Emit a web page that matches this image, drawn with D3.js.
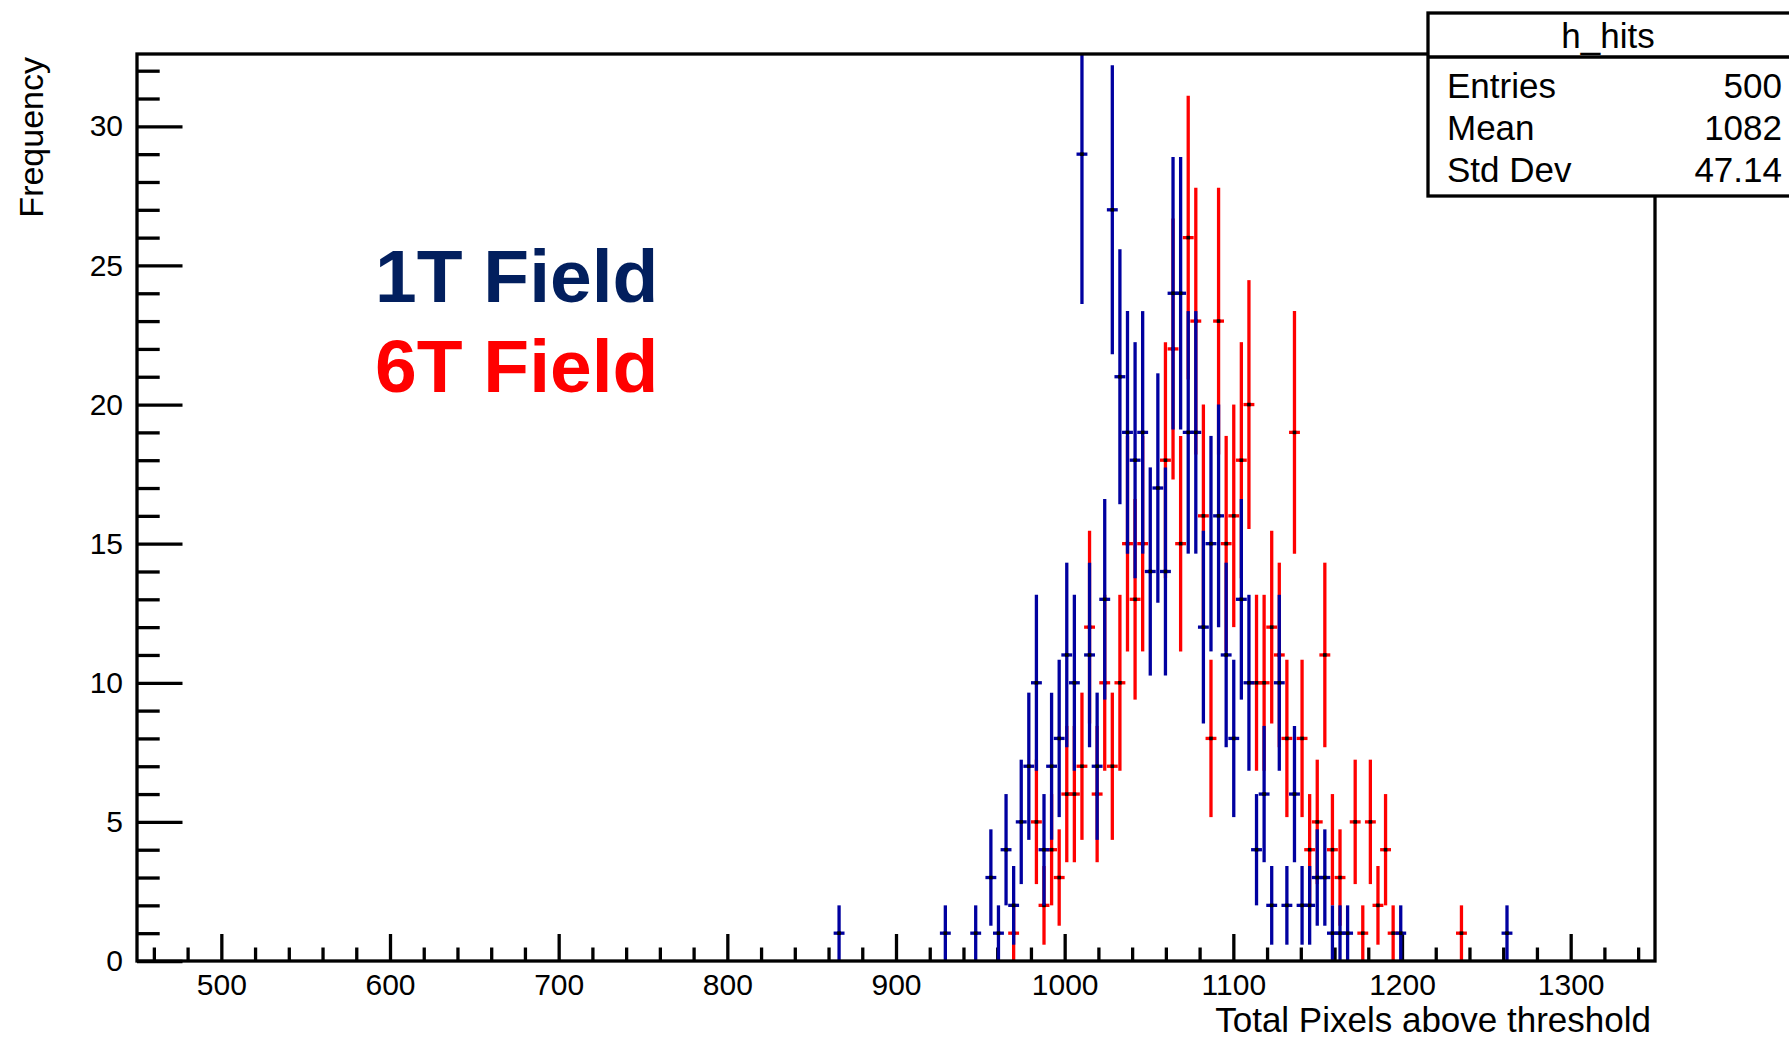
<!DOCTYPE html>
<html>
<head>
<meta charset="utf-8">
<script src="https://cdn.jsdelivr.net/npm/d3@7"></script>
<style>
  body { margin: 0; background: #fff; }
  svg { display: block; }
  text { font-family: "Liberation Sans", Arial, Helvetica, sans-serif; }
</style>
</head>
<body>
<svg id="chart" width="1789" height="1038"></svg>
<script>
// Histogram binning: 200 bins of width 4.5 over [450, 1350]
const histLow = 450;
const histHigh = 1350;
const binWidth = 4.5;
const firstBin = 92;          // index of the first bin listed in the count arrays

// Bin contents, bins 92..180 (ten bins per row)
const counts1T = [
  1, 0, 0, 0, 0, 0, 0, 0, 0, 0,
  0, 0, 0, 0, 1, 0, 0, 0, 1, 0,
  3, 1, 4, 2, 5, 7, 10, 4, 7, 8,
  11, 10, 29, 11, 7, 13, 27, 21, 19, 18,
  19, 14, 17, 14, 24, 24, 19, 19, 12, 15,
  16, 11, 8, 13, 10, 4, 6, 2, 10, 2,
  6, 2, 2, 3, 3, 1, 1, 1, 0, 0,
  0, 0, 0, 0, 1, 0, 0, 0, 0, 0,
  0, 0, 0, 0, 0, 0, 0, 0, 1
];
const counts6T = [
  0, 0, 0, 0, 0, 0, 0, 0, 0, 0,
  0, 0, 0, 0, 0, 0, 0, 0, 0, 0,
  0, 0, 0, 1, 0, 0, 5, 2, 4, 3,
  6, 6, 7, 12, 6, 10, 7, 10, 15, 13,
  15, 0, 0, 18, 22, 15, 26, 23, 16, 8,
  23, 15, 16, 18, 20, 10, 10, 12, 11, 8,
  19, 8, 4, 5, 11, 4, 3, 0, 5, 1,
  5, 2, 4, 1, 0, 0, 0, 0, 0, 0,
  0, 0, 1, 0, 0, 0, 0, 0, 0
];

const xMajorTicks = [500, 600, 700, 800, 900, 1000, 1100, 1200, 1300];
const yMajorTicks = [0, 5, 10, 15, 20, 25, 30];
const xMinorStep = 20;
const yMinorStep = 1;
const yMax = 32.6;

const statsTitle = "h_hits";
const statsNames = ["Entries", "Mean", "Std Dev"];
const statsValues = ["500", "1082", "47.14"];

const legendLabels = ["1T Field", "6T Field"];
const legendColors = ["#021f5e", "#ff0000"];
const seriesColors = { "1T": "#0000a0", "6T": "#ff0000" };

const xTitle = "Total Pixels above threshold";
const yTitle = "Frequency";

// ---- layout ----
const frame = { left: 137, right: 1655, top: 54, bottom: 961 };
const lineW = 3.3;

const svg = d3.select("#chart");
const x = d3.scaleLinear().domain([histLow, histHigh]).range([frame.left, frame.right]);
const y = d3.scaleLinear().domain([0, yMax]).range([frame.bottom, frame.top]);

svg.append("defs").append("clipPath").attr("id", "frameClip")
  .append("rect")
  .attr("x", frame.left).attr("y", frame.top)
  .attr("width", frame.right - frame.left).attr("height", frame.bottom - frame.top);

// minor ticks between the labelled ones
const xMinorTicks = d3.range(histLow + 10, histHigh, xMinorStep).filter(v => !xMajorTicks.includes(v));
const yMinorTicks = d3.range(yMinorStep, yMax, yMinorStep).filter(v => !yMajorTicks.includes(v));

const xAxisMinor = d3.axisBottom(x).tickValues(xMinorTicks).tickSize(-13.5).tickFormat("");
const xAxisMajor = d3.axisBottom(x).tickValues(xMajorTicks).tickSize(-27).tickPadding(13).tickFormat(d3.format("d"));
const yAxisMinor = d3.axisLeft(y).tickValues(yMinorTicks).tickSize(-22.7).tickFormat("");
const yAxisMajor = d3.axisLeft(y).tickValues(yMajorTicks).tickSize(-45.5).tickPadding(14).tickFormat(d3.format("d"));

function styleAxis(g) {
  g.select(".domain").remove();
  g.selectAll(".tick line").attr("stroke", "#000").attr("stroke-width", lineW);
  g.selectAll(".tick text").attr("fill", "#000").attr("font-size", 30)
    .attr("font-family", "\"Liberation Sans\", Arial, sans-serif");
}

svg.append("g").attr("transform", `translate(0,${frame.bottom})`).call(xAxisMinor).call(styleAxis);
svg.append("g").attr("transform", `translate(0,${frame.bottom})`).call(xAxisMajor).call(styleAxis);
svg.append("g").attr("transform", `translate(${frame.left},0)`).call(yAxisMinor).call(styleAxis);
svg.append("g").attr("transform", `translate(${frame.left},0)`).call(yAxisMajor).call(styleAxis);

// ---- histogram points with Poisson error bars ----
function binsOf(counts) {
  return counts.map((c, k) => {
    const i = firstBin + k;
    return { center: histLow + binWidth * (i + 0.5), lo: histLow + binWidth * i, hi: histLow + binWidth * (i + 1), count: c };
  }).filter(d => d.count > 0);
}

function drawSeries(counts, color) {
  const data = binsOf(counts);
  const g = svg.append("g").attr("clip-path", "url(#frameClip)");
  g.selectAll("line.v").data(data).join("line").attr("class", "v")
    .attr("x1", d => x(d.center)).attr("x2", d => x(d.center))
    .attr("y1", d => y(Math.max(0, d.count - Math.sqrt(d.count))))
    .attr("y2", d => y(Math.min(yMax, d.count + Math.sqrt(d.count))))
    .attr("stroke", color).attr("stroke-width", lineW);
  g.selectAll("line.h").data(data).join("line").attr("class", "h")
    .attr("x1", d => x(d.lo)).attr("x2", d => x(d.hi))
    .attr("y1", d => y(d.count)).attr("y2", d => y(d.count))
    .attr("stroke", color).attr("stroke-width", lineW).attr("stroke-linecap", "square");
  g.selectAll("rect.m").data(data).join("rect").attr("class", "m")
    .attr("x", d => x(d.center) - 1.8).attr("y", d => y(d.count) - 1.8)
    .attr("width", 3.6).attr("height", 3.6).attr("fill", "#000");
}

drawSeries(counts6T, seriesColors["6T"]);
drawSeries(counts1T, seriesColors["1T"]);

// ---- frame ----
svg.append("rect")
  .attr("x", frame.left).attr("y", frame.top)
  .attr("width", frame.right - frame.left).attr("height", frame.bottom - frame.top)
  .attr("fill", "none").attr("stroke", "#000").attr("stroke-width", lineW);

// ---- axis titles ----
svg.append("text")
  .attr("x", frame.right - 4).attr("y", 1032)
  .attr("text-anchor", "end").attr("font-size", 35).attr("fill", "#000")
  .text(xTitle);

svg.append("text")
  .attr("transform", "translate(43,57) rotate(-90)")
  .attr("text-anchor", "end").attr("font-size", 34).attr("fill", "#000")
  .text(yTitle);

// ---- field labels ----
svg.selectAll("text.legend").data(legendLabels).join("text").attr("class", "legend")
  .attr("x", 375).attr("y", (d, i) => 302 + i * 90)
  .attr("font-size", 75).attr("font-weight", "bold")
  .attr("fill", (d, i) => legendColors[i])
  .text(d => d);

// ---- statistics box ----
const box = { x: 1428, y: 13, w: 1789 - 1428 + 4, h: 183, header: 44 };
const sb = svg.append("g");
sb.append("rect").attr("x", box.x).attr("y", box.y).attr("width", box.w).attr("height", box.h)
  .attr("fill", "#fff").attr("stroke", "#000").attr("stroke-width", lineW);
sb.append("line").attr("x1", box.x).attr("x2", box.x + box.w)
  .attr("y1", box.y + box.header).attr("y2", box.y + box.header)
  .attr("stroke", "#000").attr("stroke-width", lineW);
sb.append("text").attr("x", 1608).attr("y", 48).attr("text-anchor", "middle")
  .attr("font-size", 35).attr("fill", "#000").text(statsTitle);
sb.selectAll("text.sn").data(statsNames).join("text").attr("class", "sn")
  .attr("x", 1447).attr("y", (d, i) => 98 + i * 42)
  .attr("font-size", 35).attr("fill", "#000").text(d => d);
sb.selectAll("text.sv").data(statsValues).join("text").attr("class", "sv")
  .attr("x", 1782).attr("y", (d, i) => 98 + i * 42).attr("text-anchor", "end")
  .attr("font-size", 35).attr("fill", "#000").text(d => d);
</script>
</body>
</html>
